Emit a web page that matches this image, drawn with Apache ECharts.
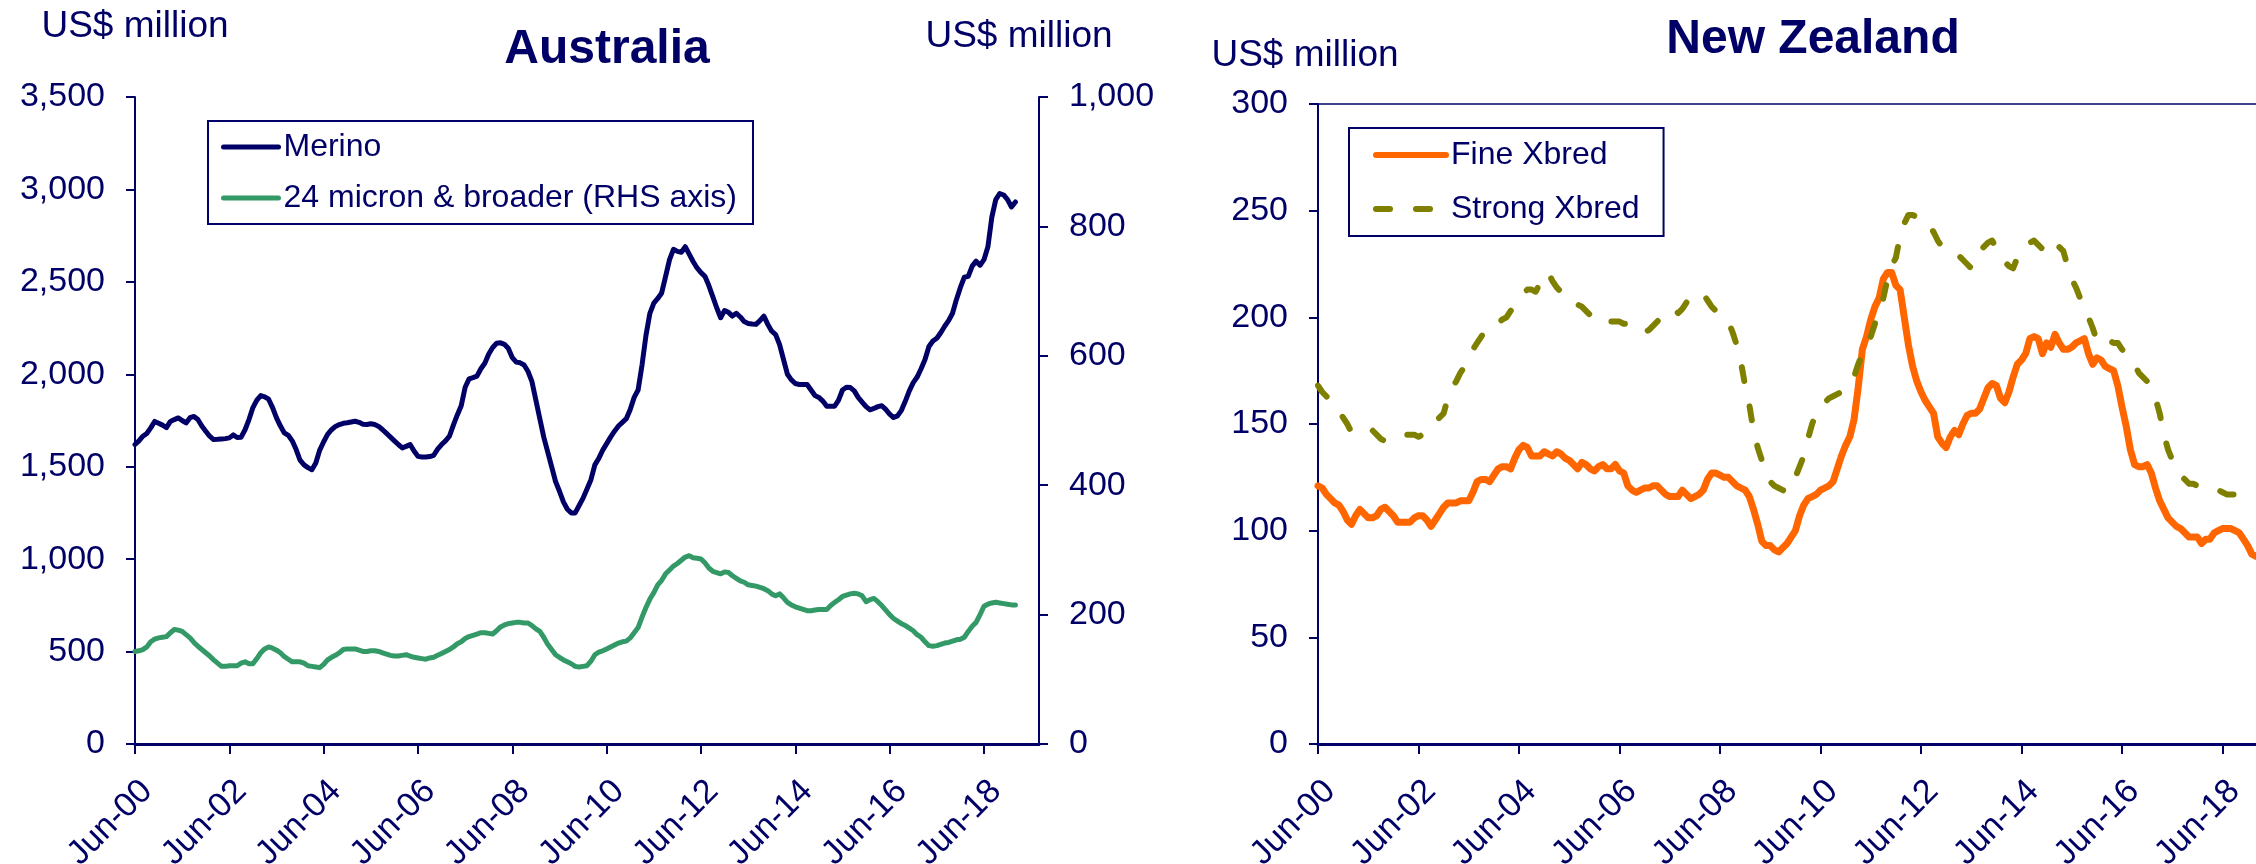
<!DOCTYPE html>
<html>
<head>
<meta charset="utf-8">
<script src="https://cdn.jsdelivr.net/npm/echarts@6/dist/echarts.min.js"></script>
<style>
html, body { margin: 0; padding: 0; background: #fff; }
#chart { width: 2256px; height: 864px; }
</style>
</head>
<body>
<div id="chart"></div>
<script>
// monthly values, Jun-00 onwards
const merino = [
  1620, 1640, 1665, 1680, 1710, 1745, 1735, 1725, 1712, 1745,
  1755, 1764, 1750, 1737, 1765, 1772, 1755, 1720, 1692, 1665,
  1647, 1648, 1650, 1652, 1656, 1672, 1658, 1660, 1700, 1755,
  1820, 1860, 1885, 1878, 1865, 1820, 1764, 1720, 1683, 1670,
  1640, 1593, 1535, 1510, 1495, 1484, 1520, 1590, 1635, 1675,
  1700, 1718, 1728, 1735, 1738, 1742, 1746, 1740, 1730, 1728,
  1732, 1728, 1718, 1700, 1680, 1660, 1640, 1620, 1602, 1610,
  1620, 1585, 1556, 1553, 1553, 1555, 1562, 1595, 1620, 1640,
  1665, 1725, 1780, 1830, 1930, 1975, 1982, 1990, 2030, 2060,
  2110, 2145, 2168, 2170, 2162, 2140, 2090, 2066, 2062, 2050,
  2015, 1960, 1860, 1760, 1660, 1580, 1500, 1420, 1367, 1310,
  1270, 1250, 1250, 1290, 1330, 1380, 1430, 1510, 1545, 1590,
  1625, 1660, 1692, 1720, 1740, 1760, 1810, 1875, 1915, 2050,
  2210, 2330, 2385, 2410, 2440, 2530, 2620, 2676, 2665, 2660,
  2690, 2650, 2610, 2575, 2550, 2530, 2480, 2420, 2360, 2306,
  2345, 2335, 2315, 2330, 2310, 2285, 2275, 2272, 2270, 2290,
  2315, 2270, 2233, 2215, 2160, 2080, 2000, 1970, 1950, 1945,
  1945, 1945, 1915, 1885, 1875, 1855, 1827, 1827, 1827, 1860,
  1915, 1930, 1928, 1910, 1875, 1850, 1825, 1808, 1815, 1825,
  1830, 1810, 1785, 1766, 1775, 1805, 1855, 1910, 1955, 1985,
  2030, 2080, 2150, 2180, 2195, 2225, 2260, 2290, 2330, 2405,
  2470, 2525, 2530, 2585, 2612, 2590, 2620, 2690, 2850, 2945,
  2978, 2970, 2945, 2905, 2932
]
const broader24 = [
  143, 144, 146, 150, 158, 162, 164, 165, 166, 172,
  177, 176, 174, 169, 164, 157, 151, 146, 141, 136,
  130, 125, 120, 120, 121, 121, 121, 125, 127, 124,
  124, 132, 141, 147, 150, 148, 145, 141, 135, 131,
  127, 127, 127, 125, 121, 120, 119, 118, 123, 130,
  134, 137, 141, 146, 147, 147, 147, 145, 143, 143,
  144, 144, 143, 141, 139, 137, 136, 136, 137, 138,
  136, 134, 133, 132, 131, 133, 134, 137, 140, 143,
  146, 150, 155, 158, 163, 166, 168, 170, 172, 172,
  171, 170, 175, 181, 184, 186, 187, 188, 188, 187,
  187, 183, 178, 174, 165, 154, 146, 138, 134, 130,
  127, 124, 120, 119, 120, 121, 128, 138, 142, 144,
  147, 150, 153, 156, 158, 159, 164, 172, 180, 196,
  211, 224, 234, 246, 253, 263, 269, 275, 279, 284,
  289, 291, 288, 287, 286, 280, 272, 267, 265, 263,
  266, 265, 260, 256, 252, 250, 246, 245, 244, 242,
  240, 237, 232, 229, 232, 226, 219, 215, 212, 210,
  208, 206, 206, 207, 208, 208, 208, 214, 219, 223,
  228, 230, 232, 233, 232, 229, 220, 223, 225, 220,
  214, 207, 200, 194, 190, 186, 183, 179, 175, 169,
  165, 158, 152, 151, 152, 154, 156, 157, 159, 161,
  162, 165, 174, 182, 188, 200, 213, 216, 218, 219,
  218, 217, 216, 215, 215
]
const fineXbred = [
  121, 120, 117, 115, 113, 112, 109, 105, 103, 107,
  110, 108, 106, 106, 107, 110, 111, 109, 107, 104,
  104, 104, 104, 106, 107, 107, 105, 102, 105, 108,
  111, 113, 113, 113, 114, 114, 114, 118, 123, 124,
  124, 123, 126, 129, 130, 130, 129, 134, 138, 140,
  139, 135, 135, 135, 137, 136, 135, 137, 136, 134,
  133, 131, 129, 132, 131, 129, 128, 130, 131, 129,
  129, 131, 128, 127, 121, 119, 118, 119, 120, 120,
  121, 121, 119, 117, 116, 116, 116, 119, 117, 115,
  116, 117, 119, 124, 127, 127, 126, 125, 125, 123,
  121, 120, 119, 116, 110, 103, 95, 93, 93, 91,
  90, 92, 94, 97, 100, 107, 112, 115, 116, 117,
  119, 120, 121, 123, 129, 135, 140, 144, 152, 167,
  185, 191, 199, 205, 209, 218, 221, 221, 215, 213,
  200, 187, 177, 170, 165, 161, 158, 155, 144, 141,
  139, 144, 147, 145, 150, 154, 155, 155, 157, 162,
  167, 169, 168, 162, 160, 165, 172, 178, 180, 183,
  190, 191, 190, 183, 188, 186, 192, 188, 185, 185,
  186, 188, 189, 190, 183, 178, 181, 180, 177, 176,
  175, 168, 158, 149, 138, 131, 130, 130, 131, 127,
  120, 114, 110, 106, 104, 102, 101, 99, 97, 97,
  97, 94, 96, 96, 99, 100, 101, 101, 101, 100,
  99, 96, 93, 89, 88
]
const strongXbred = [
  168, 165, 163, 161, 158, 156, 153, 150, 146, 146,
  146, 146, 147, 147, 145, 143, 142, 143, 144, 144,
  144, 145, 145, 145, 144, 145, 146, 148, 151, 153,
  155, 162, 167, 170, 174, 177, 180, 185, 188, 191,
  194, 196, 197, 197, 199, 200, 203, 206, 208, 211,
  213, 213, 212, 216, 220, 221, 217, 214, 212, 210,
  208, 208, 206, 205, 203, 201, 199, 198, 199, 199,
  198, 198, 198, 197, 197, 197, 195, 194, 193, 194,
  196, 198, 200, 201, 203, 204, 202, 204, 207, 209,
  209, 209, 211, 208, 205, 203, 202, 200, 198, 193,
  187, 179, 168, 159, 147, 139, 133, 128, 123, 121,
  120, 119, 118, 121, 125, 130, 135, 143, 150, 155,
  158, 160, 162, 163, 164, 165, 167, 169, 172, 178,
  183, 187, 191, 197, 203, 209, 218, 224, 228, 238,
  244, 248, 248, 247, 247, 246, 243, 240, 236, 233,
  233, 232, 231, 229, 227, 225, 223, 227, 231, 233,
  235, 236, 232, 228, 226, 224, 223, 228, 232, 234,
  235, 236, 234, 232, 236, 236, 234, 233, 231, 224,
  218, 214, 209, 205, 200, 195, 189, 191, 190, 189,
  188, 188, 185, 183, 181, 178, 174, 172, 170, 167,
  162, 155, 145, 138, 133, 129, 126, 124, 122, 122,
  121, 121, 120, 120, 119, 119, 118, 117, 117, 117,
  117, 116, 115, 114, 114
]
const monthNames = ['Jan', 'Feb', 'Mar', 'Apr', 'May', 'Jun', 'Jul', 'Aug', 'Sep', 'Oct', 'Nov', 'Dec']

// month labels from Jun-00
function monthLabels (count) {
  const out = []
  for (let i = 0; i < count; i++) {
    const m = (5 + i) % 12
    const y = Math.floor((5 + i) / 12)
    out.push(monthNames[m] + '-' + String(y).padStart(2, '0'))
  }
  return out
}
const auCats = monthLabels(231)
const nzCats = monthLabels(225)

const navy = '#000066'
const font = 'Liberation Sans, Arial, sans-serif'
const everyTwoYears = (idx) => idx % 24 === 0

function bottomAxis (grid, cats) {
  return {
    type: 'category',
    gridIndex: grid,
    data: cats,
    boundaryGap: false,
    axisLine: { lineStyle: { color: navy, width: 3 } },
    axisTick: { interval: everyTwoYears, length: 10, lineStyle: { color: navy, width: 2 } },
    axisLabel: {
      interval: everyTwoYears,
      rotate: 45,
      margin: 30,
      verticalAlign: 'top',
      color: navy,
      fontSize: 34,
      fontFamily: font
    }
  }
}
function topAxis (grid, cats) {
  return {
    type: 'category',
    gridIndex: grid,
    data: cats,
    position: 'top',
    boundaryGap: false,
    axisLine: { lineStyle: { color: navy, width: 1.5 } },
    axisTick: { show: false },
    axisLabel: { show: false }
  }
}
function valueAxis (grid, pos, max, step, name, gap, shift) {
  return {
    type: 'value',
    gridIndex: grid,
    position: pos,
    min: 0,
    max: max,
    interval: step,
    name: name,
    nameLocation: 'end',
    nameGap: gap,
    nameTextStyle: { color: navy, fontSize: 37, fontFamily: font, padding: [0, shift, 0, 0] },
    splitLine: { show: false },
    axisLine: { show: true, lineStyle: { color: navy, width: 2 } },
    axisTick: { show: true, length: 9, lineStyle: { color: navy, width: 2 } },
    axisLabel: {
      margin: 30,
      color: navy,
      fontSize: 34,
      fontFamily: font,
      formatter: (v) => v.toLocaleString('en-US')
    }
  }
}
function legendBox (names, left, top, pad, gap, w, lineW) {
  return {
    data: names,
    orient: 'vertical',
    left: left,
    top: top,
    padding: pad,
    itemGap: gap,
    itemWidth: w,
    itemHeight: 14,
    borderColor: navy,
    borderWidth: 2,
    itemStyle: { opacity: 0 },
    lineStyle: { width: lineW, cap: 'round' },
    textStyle: { color: navy, fontSize: 32, fontFamily: font }
  }
}

const chart = echarts.init(document.getElementById('chart'))
chart.setOption({
  animation: false,
  textStyle: { fontFamily: font },
  title: [
    { text: 'Australia', left: 607, top: 26, textAlign: 'center', padding: 0,
      textStyle: { fontSize: 48, fontWeight: 'bold', color: navy, fontFamily: font } },
    { text: 'New Zealand', left: 1813, top: 16, textAlign: 'center', padding: 0,
      textStyle: { fontSize: 48, fontWeight: 'bold', color: navy, fontFamily: font } }
  ],
  legend: [
    legendBox(['Merino', '24 micron & broader (RHS axis)'], 208, 121, [10, 16, 10, 13], 19, 55, 5),
    legendBox(['Fine Xbred', 'Strong Xbred'], 1349, 128, [11, 24, 11, 24], 22, 70, 6)
  ],
  grid: [
    { left: 135, right: 1217, top: 97, bottom: 120, outerBoundsMode: 'none' },
    { left: 1318, right: 0, top: 104, bottom: 120, outerBoundsMode: 'none' }
  ],
  xAxis: [
    bottomAxis(0, auCats),
    topAxis(0, auCats),
    bottomAxis(1, nzCats),
    topAxis(1, nzCats)
  ],
  yAxis: [
    valueAxis(0, 'left', 3500, 500, 'US$ million', 52, 0),
    valueAxis(0, 'right', 1000, 200, 'US$ million', 42, 40),
    valueAxis(1, 'left', 300, 50, 'US$ million', 30, 26)
  ],
  series: [
    {
      name: 'Merino', type: 'line', xAxisIndex: 0, yAxisIndex: 0,
      data: merino, symbol: 'none', z: 3,
      lineStyle: { color: navy, width: 5, cap: 'round', join: 'round' },
      itemStyle: { color: navy }
    },
    {
      name: '24 micron & broader (RHS axis)', type: 'line', xAxisIndex: 0, yAxisIndex: 1,
      data: broader24, symbol: 'none',
      lineStyle: { color: '#339966', width: 5, cap: 'round', join: 'round' },
      itemStyle: { color: '#339966' }
    },
    {
      name: 'Fine Xbred', type: 'line', xAxisIndex: 2, yAxisIndex: 2,
      data: fineXbred, symbol: 'none', z: 3,
      lineStyle: { color: '#FF6600', width: 7, cap: 'round', join: 'round' },
      itemStyle: { color: '#FF6600' }
    },
    {
      name: 'Strong Xbred', type: 'line', xAxisIndex: 2, yAxisIndex: 2,
      data: strongXbred, symbol: 'none',
      lineStyle: { color: '#808000', width: 6, type: [14, 26], cap: 'round', join: 'round' },
      itemStyle: { color: '#808000' }
    }
  ]
})
</script>
</body>
</html>
